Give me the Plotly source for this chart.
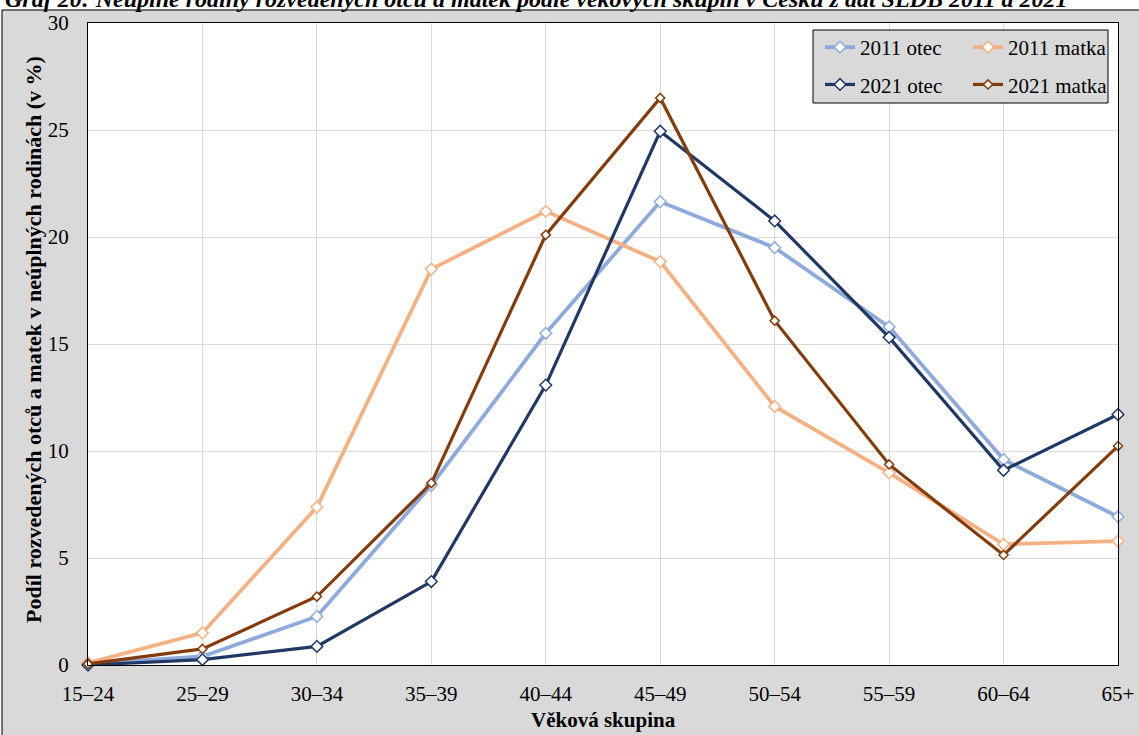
import plotly.graph_objects as go

# ---- data ----
categories = ["15–24", "25–29", "30–34", "35–39", "40–44", "45–49", "50–54", "55–59", "60–64", "65+"]
otec_2011 = [0.05, 0.4, 2.27, 8.4, 15.5, 21.65, 19.5, 15.8, 9.6, 6.93]
matka_2011 = [0.1, 1.5, 7.38, 18.5, 21.2, 18.85, 12.08, 8.98, 5.64, 5.79]
otec_2021 = [0.0, 0.25, 0.87, 3.9, 13.08, 24.94, 20.75, 15.31, 9.1, 11.71]
matka_2021 = [0.05, 0.75, 3.2, 8.5, 20.1, 26.5, 16.09, 9.37, 5.14, 10.23]
y_ticks = [0, 5, 10, 15, 20, 25, 30]

title_text = "Graf 20: Neúplné rodiny rozvedených otců a matek podle věkových skupin v Česku z dat SLDB 2011 a 2021"
y_title = "Podíl rozvedených otců a matek v neúplných rodinách (v %)"
x_title = "Věková skupina"

FONT = "Liberation Serif"
W, H = 1139, 735
ML, MR, MT, MB = 88, 21, 23, 70
PW, PH = W - ML - MR, H - MT - MB


def px_x(p):
    return (p - ML) / PW


def px_y(p):
    return (H - MB - p) / PH


series = [
    ("2011 otec", otec_2011, "#8eaadb", 3.8, 9, "legend"),
    ("2011 matka", matka_2011, "#f4b183", 3.8, 9, "legend2"),
    ("2021 otec", otec_2021, "#203864", 3.2, 9, "legend"),
    ("2021 matka", matka_2021, "#843c0c", 3.2, 7, "legend2"),
]

fig = go.Figure()
for name, vals, col, lw, ms, lg in series:
    fig.add_trace(go.Scatter(
        x=categories, y=vals, name=name, mode="lines+markers",
        line=dict(color=col, width=lw),
        marker=dict(symbol="diamond", size=ms, color="white", line=dict(color=col, width=1.5)),
        cliponaxis=False, legend=lg, legendgroup=name,
    ))

fig.update_layout(
    width=W, height=H,
    margin=dict(l=ML, r=MR, t=MT, b=MB, pad=0, autoexpand=False),
    paper_bgcolor="#d9d9d9", plot_bgcolor="white",
    font=dict(family=FONT, size=21, color="black"),
    showlegend=True,
    legend=dict(x=px_x(820), y=px_y(27), xanchor="left", yanchor="top",
                bgcolor="rgba(0,0,0,0)", borderwidth=0, tracegroupgap=7,
                font=dict(family=FONT, size=21, color="black")),
    legend2=dict(x=px_x(968), y=px_y(27), xanchor="left", yanchor="top",
                 bgcolor="rgba(0,0,0,0)", borderwidth=0, tracegroupgap=7,
                 font=dict(family=FONT, size=21, color="black")),
)

fig.update_xaxes(
    type="category", range=[0, len(categories) - 1], automargin=False,
    showgrid=True, gridcolor="#d9d9d9", gridwidth=1,
    showline=True, linecolor="black", linewidth=1, mirror=True,
    ticks="", ticklabelstandoff=10,
    tickfont=dict(family=FONT, size=21, color="black"),
    zeroline=False,
)
fig.update_yaxes(
    range=[0, 30], tickvals=y_ticks, automargin=False,
    showgrid=True, gridcolor="#d9d9d9", gridwidth=1,
    showline=True, linecolor="black", linewidth=1, mirror=True,
    ticks="", ticklabelstandoff=14,
    tickfont=dict(family=FONT, size=21, color="black"),
    zeroline=False,
)

# white strips outside the grey frame + frame border (kept inside the canvas)
fig.add_shape(type="rect", xref="paper", yref="paper",
              x0=px_x(0), x1=px_x(W), y0=px_y(9.5), y1=px_y(0),
              fillcolor="white", line=dict(width=0), layer="above")
fig.add_shape(type="rect", xref="paper", yref="paper",
              x0=px_x(0), x1=px_x(1.5), y0=px_y(H), y1=px_y(0),
              fillcolor="white", line=dict(width=0), layer="above")
fig.add_shape(type="line", xref="paper", yref="paper",
              x0=px_x(2), x1=px_x(W), y0=px_y(10), y1=px_y(10),
              line=dict(color="black", width=1), layer="above")
fig.add_shape(type="line", xref="paper", yref="paper",
              x0=px_x(2), x1=px_x(2), y0=px_y(H), y1=px_y(10),
              line=dict(color="black", width=1), layer="above")
# legend box
fig.add_shape(type="rect", xref="paper", yref="paper",
              x0=px_x(813), x1=px_x(1108), y0=px_y(103), y1=px_y(30),
              fillcolor="#d9d9d9", line=dict(color="black", width=1), layer="above")

# title (cut at top like the reference)
fig.add_annotation(text="<b><i>" + title_text + "</i></b>", xref="paper", yref="paper",
                   x=px_x(3), y=px_y(14), xanchor="left", yanchor="bottom",
                   showarrow=False, font=dict(family=FONT, size=24, color="black"))
# axis titles
fig.add_annotation(text="<b>" + y_title + "</b>", xref="paper", yref="paper",
                   x=px_x(33), y=px_y(340), xanchor="center", yanchor="middle",
                   textangle=-90, showarrow=False, font=dict(family=FONT, size=22, color="black"))
fig.add_annotation(text="<b>" + x_title + "</b>", xref="paper", yref="paper",
                   x=px_x(603), y=px_y(720), xanchor="center", yanchor="middle",
                   showarrow=False, font=dict(family=FONT, size=21, color="black"))

fig.write_html("out.html", config={"displayModeBar": False},
               post_script="document.body.style.margin='0';")
